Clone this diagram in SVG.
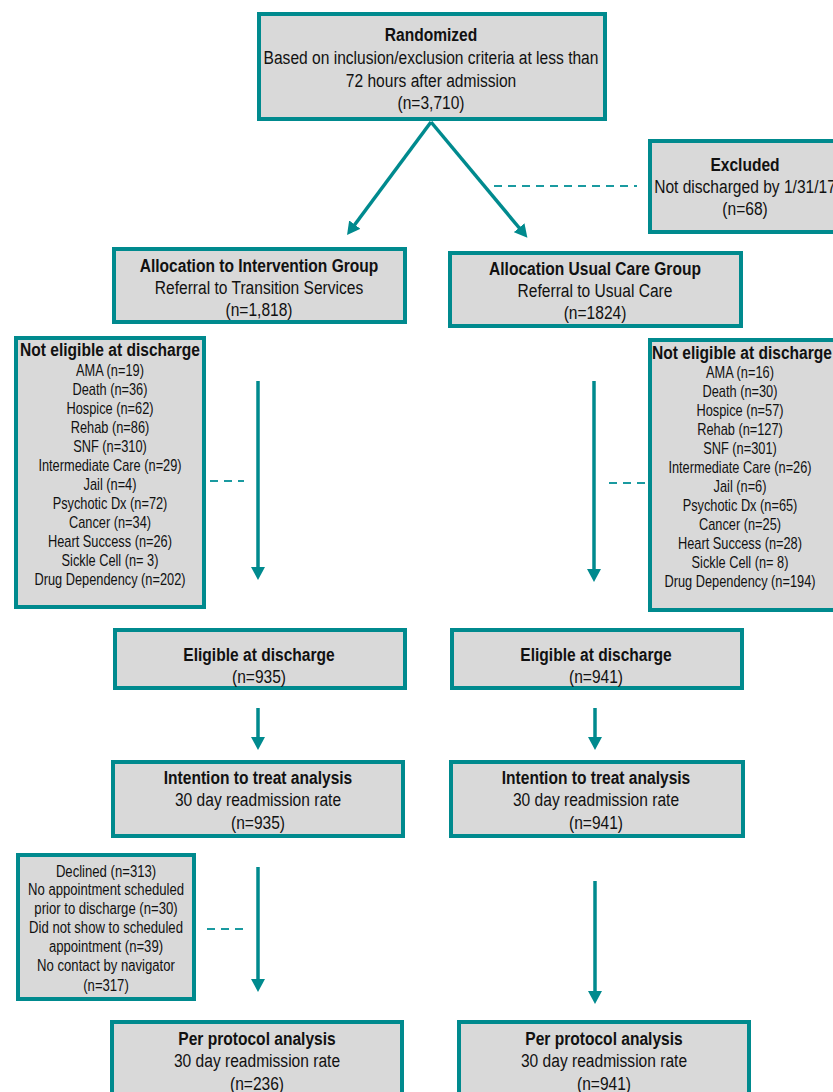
<svg xmlns="http://www.w3.org/2000/svg" width="833" height="1092" viewBox="0 0 833 1092">
<defs>
<style>
.box{fill:#d9d9d9;stroke:#008a8e;stroke-width:4}
text{font-family:"Liberation Sans",Arial,sans-serif;fill:#111;text-anchor:middle}
.t{font-size:19px}
.b{font-weight:bold}
.s{font-size:16px}
.arrow{stroke:#008a8e;stroke-width:3.5;fill:none}
.dash{stroke:#1a9aa0;stroke-width:2;stroke-dasharray:8,6;fill:none}
</style>
<marker id="ah" markerUnits="userSpaceOnUse" markerWidth="14" markerHeight="14" refX="3" refY="7" orient="auto">
<path d="M0,0 L13,7 L0,14 z" fill="#008a8e"/>
</marker>
</defs>

<g id="connectors">
<line class="arrow" x1="431" y1="122" x2="353" y2="227" marker-end="url(#ah)"/>
<line class="arrow" x1="431" y1="122" x2="521" y2="230" marker-end="url(#ah)"/>
<line class="dash" x1="494" y1="186" x2="637" y2="186"/>
<line class="arrow" x1="258" y1="381" x2="258" y2="570" marker-end="url(#ah)"/>
<line class="dash" x1="210" y1="481" x2="244" y2="481"/>
<line class="arrow" x1="594" y1="381" x2="594" y2="572" marker-end="url(#ah)"/>
<line class="dash" x1="609" y1="483" x2="646" y2="483"/>
<line class="arrow" x1="258" y1="708" x2="258" y2="740" marker-end="url(#ah)"/>
<line class="arrow" x1="595" y1="708" x2="595" y2="740" marker-end="url(#ah)"/>
<line class="arrow" x1="258" y1="867" x2="258" y2="982" marker-end="url(#ah)"/>
<line class="dash" x1="207" y1="929" x2="244" y2="929"/>
<line class="arrow" x1="595" y1="881" x2="595" y2="994" marker-end="url(#ah)"/>
</g>

<g id="randomized">
<rect class="box" x="259" y="14" width="346" height="105"/>
<text class="t b" transform="matrix(0.82,0,0,1,431,41)">Randomized</text>
<text class="t" transform="matrix(0.82,0,0,1,431,64)">Based on inclusion/exclusion criteria at less than</text>
<text class="t" transform="matrix(0.82,0,0,1,431,87)">72 hours after admission</text>
<text class="t" transform="matrix(0.82,0,0,1,431,109)">(n=3,710)</text>
</g>

<g id="excluded">
<rect class="box" x="650" y="141" width="200" height="91"/>
<text class="t b" transform="matrix(0.82,0,0,1,745,171)">Excluded</text>
<text class="t" transform="matrix(0.82,0,0,1,745,193)">Not discharged by 1/31/17</text>
<text class="t" transform="matrix(0.82,0,0,1,745,215)">(n=68)</text>
</g>

<g id="alloc-intervention">
<rect class="box" x="114" y="249" width="291" height="73"/>
<text class="t b" transform="matrix(0.82,0,0,1,259,272)">Allocation to Intervention Group</text>
<text class="t" transform="matrix(0.82,0,0,1,259,294)">Referral to Transition Services</text>
<text class="t" transform="matrix(0.82,0,0,1,259,316)">(n=1,818)</text>
</g>

<g id="alloc-usual">
<rect class="box" x="450" y="253" width="291" height="73"/>
<text class="t b" transform="matrix(0.82,0,0,1,595,275)">Allocation Usual Care Group</text>
<text class="t" transform="matrix(0.82,0,0,1,595,297)">Referral to Usual Care</text>
<text class="t" transform="matrix(0.82,0,0,1,595,319)">(n=1824)</text>
</g>

<g id="not-eligible-left">
<rect class="box" x="16" y="338" width="188" height="269"/>
<text class="t b" transform="matrix(0.82,0,0,1,110,356)">Not eligible at discharge</text>
<g class="s">
<text class="s" transform="matrix(0.8,0,0,1,110,376)">AMA (n=19)</text>
<text class="s" transform="matrix(0.8,0,0,1,110,395)">Death (n=36)</text>
<text class="s" transform="matrix(0.8,0,0,1,110,414)">Hospice (n=62)</text>
<text class="s" transform="matrix(0.8,0,0,1,110,433)">Rehab (n=86)</text>
<text class="s" transform="matrix(0.8,0,0,1,110,452)">SNF (n=310)</text>
<text class="s" transform="matrix(0.8,0,0,1,110,471)">Intermediate Care (n=29)</text>
<text class="s" transform="matrix(0.8,0,0,1,110,490)">Jail (n=4)</text>
<text class="s" transform="matrix(0.8,0,0,1,110,509)">Psychotic Dx (n=72)</text>
<text class="s" transform="matrix(0.8,0,0,1,110,528)">Cancer (n=34)</text>
<text class="s" transform="matrix(0.8,0,0,1,110,547)">Heart Success (n=26)</text>
<text class="s" transform="matrix(0.8,0,0,1,110,566)">Sickle Cell (n= 3)</text>
<text class="s" transform="matrix(0.8,0,0,1,110,585)">Drug Dependency (n=202)</text>
</g>
</g>

<g id="not-eligible-right">
<rect class="box" x="650" y="340" width="195" height="270"/>
<text class="t b" transform="matrix(0.82,0,0,1,742,359)">Not eligible at discharge</text>
<text class="s" transform="matrix(0.8,0,0,1,740,378)">AMA (n=16)</text>
<text class="s" transform="matrix(0.8,0,0,1,740,397)">Death (n=30)</text>
<text class="s" transform="matrix(0.8,0,0,1,740,416)">Hospice (n=57)</text>
<text class="s" transform="matrix(0.8,0,0,1,740,435)">Rehab (n=127)</text>
<text class="s" transform="matrix(0.8,0,0,1,740,454)">SNF (n=301)</text>
<text class="s" transform="matrix(0.8,0,0,1,740,473)">Intermediate Care (n=26)</text>
<text class="s" transform="matrix(0.8,0,0,1,740,492)">Jail (n=6)</text>
<text class="s" transform="matrix(0.8,0,0,1,740,511)">Psychotic Dx (n=65)</text>
<text class="s" transform="matrix(0.8,0,0,1,740,530)">Cancer (n=25)</text>
<text class="s" transform="matrix(0.8,0,0,1,740,549)">Heart Success (n=28)</text>
<text class="s" transform="matrix(0.8,0,0,1,740,568)">Sickle Cell (n= 8)</text>
<text class="s" transform="matrix(0.8,0,0,1,740,587)">Drug Dependency (n=194)</text>
</g>

<g id="eligible-left">
<rect class="box" x="115" y="630" width="290" height="58"/>
<text class="t b" transform="matrix(0.82,0,0,1,259,661)">Eligible at discharge</text>
<text class="t" transform="matrix(0.82,0,0,1,259,683)">(n=935)</text>
</g>

<g id="eligible-right">
<rect class="box" x="452" y="630" width="290" height="58"/>
<text class="t b" transform="matrix(0.82,0,0,1,596,661)">Eligible at discharge</text>
<text class="t" transform="matrix(0.82,0,0,1,596,683)">(n=941)</text>
</g>

<g id="itt-left">
<rect class="box" x="113" y="762" width="290" height="74"/>
<text class="t b" transform="matrix(0.82,0,0,1,258,784)">Intention to treat analysis</text>
<text class="t" transform="matrix(0.82,0,0,1,258,806)">30 day readmission rate</text>
<text class="t" transform="matrix(0.82,0,0,1,258,829)">(n=935)</text>
</g>

<g id="itt-right">
<rect class="box" x="451" y="762" width="292" height="74"/>
<text class="t b" transform="matrix(0.82,0,0,1,596,784)">Intention to treat analysis</text>
<text class="t" transform="matrix(0.82,0,0,1,596,806)">30 day readmission rate</text>
<text class="t" transform="matrix(0.82,0,0,1,596,829)">(n=941)</text>
</g>

<g id="declined">
<rect class="box" x="18" y="855" width="176" height="144"/>
<text class="s" transform="matrix(0.82,0,0,1,106,877)">Declined (n=313)</text>
<text class="s" transform="matrix(0.82,0,0,1,106,895)">No appointment scheduled</text>
<text class="s" transform="matrix(0.82,0,0,1,106,914)">prior to discharge (n=30)</text>
<text class="s" transform="matrix(0.82,0,0,1,106,933)">Did not show to scheduled</text>
<text class="s" transform="matrix(0.82,0,0,1,106,952)">appointment (n=39)</text>
<text class="s" transform="matrix(0.82,0,0,1,106,971)">No contact by navigator</text>
<text class="s" transform="matrix(0.82,0,0,1,106,991)">(n=317)</text>
</g>

<g id="pp-left">
<rect class="box" x="112" y="1022" width="290" height="80"/>
<text class="t b" transform="matrix(0.82,0,0,1,257,1045)">Per protocol analysis</text>
<text class="t" transform="matrix(0.82,0,0,1,257,1067)">30 day readmission rate</text>
<text class="t" transform="matrix(0.82,0,0,1,257,1090)">(n=236)</text>
</g>

<g id="pp-right">
<rect class="box" x="459" y="1022" width="290" height="80"/>
<text class="t b" transform="matrix(0.82,0,0,1,604,1045)">Per protocol analysis</text>
<text class="t" transform="matrix(0.82,0,0,1,604,1067)">30 day readmission rate</text>
<text class="t" transform="matrix(0.82,0,0,1,604,1090)">(n=941)</text>
</g>
</svg>
